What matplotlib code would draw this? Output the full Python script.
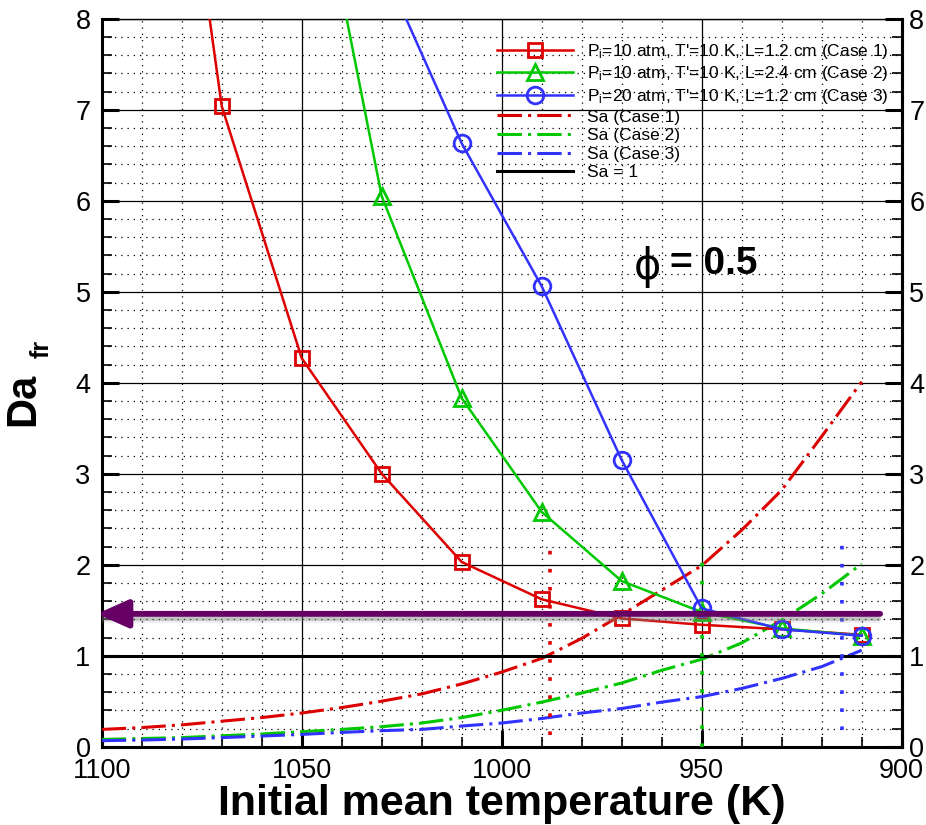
import numpy as np
import matplotlib
matplotlib.use('Agg')
import matplotlib.pyplot as plt
import matplotlib.patheffects as pe
from matplotlib.ticker import MultipleLocator

plt.rcParams['font.family'] = ['Liberation Sans', 'DejaVu Sans']
plt.rcParams['mathtext.fontset'] = 'custom'
plt.rcParams['mathtext.rm'] = 'Liberation Sans'
plt.rcParams['mathtext.it'] = 'Liberation Sans'

# Da_fr for the three cases (points above 8 are clipped by the axes)
T1 = [1090, 1070, 1050, 1030, 1010, 990, 970, 950, 930, 910]
da1 = [13.4, 7.04, 4.27, 3.0, 2.03, 1.62, 1.41, 1.34, 1.29, 1.23]
T2 = [1050, 1030, 1010, 990, 970, 950, 930, 910]
da2 = [10.5, 6.05, 3.83, 2.58, 1.82, 1.48, 1.30, 1.22]
T3 = [1030, 1010, 990, 970, 950, 930, 910]
da3 = [8.6, 6.63, 5.06, 3.15, 1.52, 1.29, 1.22]

# Sa curves
T_sa = [1100, 1090, 1080, 1070, 1060, 1050, 1040, 1030, 1020, 1010,
        1000, 990, 980, 970, 960, 950, 940, 930, 920, 910]
sa1 = [0.19, 0.21, 0.24, 0.28, 0.32, 0.37, 0.43, 0.50, 0.58, 0.69,
       0.82, 0.97, 1.19, 1.45, 1.72, 1.99, 2.38, 2.82, 3.41, 4.01]
sa2 = [0.08, 0.09, 0.10, 0.12, 0.14, 0.165, 0.19, 0.22, 0.26, 0.32,
       0.40, 0.49, 0.59, 0.70, 0.84, 0.96, 1.14, 1.39, 1.68, 2.01]
sa3 = [0.066, 0.073, 0.084, 0.10, 0.117, 0.135, 0.157, 0.176, 0.19, 0.227,
       0.26, 0.31, 0.37, 0.42, 0.49, 0.55, 0.64, 0.75, 0.88, 1.06]

# crossing markers (vertical dotted lines)
cross_T = [988, 950, 915]
cross_lo = [0.13, 0.0, 0.18]
cross_hi = [2.25, 2.18, 2.29]

# horizontal arrow
arrow_y = 1.46
arrow_from = 905.4
arrow_to = 1101.2

labels = ["P$_{i}$=10 atm, T'=10 K, L=1.2 cm (Case 1)",
          "P$_{i}$=10 atm, T'=10 K, L=2.4 cm (Case 2)",
          "P$_{i}$=20 atm, T'=10 K, L=1.2 cm (Case 3)",
          "Sa (Case 1)", "Sa (Case 2)", "Sa (Case 3)", "Sa = 1"]

red = '#dd0000'
green = '#00c800'
blue = '#3232ff'
purple = '#660066'
dashdot = (0, (8, 2, 1, 2))

fig = plt.figure(figsize=(9.26, 8.25), dpi=100)
ax = fig.add_axes([101.7 / 926, 1 - 746.7 / 825, 800 / 926, 728 / 825])

ax.plot(T1, da1, '-s', color=red, lw=1.8, ms=10, mfc='none', mew=2, label=labels[0], zorder=5)
ax.plot(T2, da2, '-^', color=green, lw=1.8, ms=11, mfc='none', mew=2, label=labels[1], zorder=5)
ax.plot(T3, da3, '-o', color=blue, lw=1.8, ms=12, mfc='none', mew=2, label=labels[2], zorder=5)
ax.plot(T_sa, sa1, color=red, lw=2.2, linestyle=dashdot, label=labels[3], zorder=4)
ax.plot(T_sa, sa2, color=green, lw=2.2, linestyle=dashdot, label=labels[4], zorder=4)
ax.plot(T_sa, sa3, color=blue, lw=2.2, linestyle=dashdot, label=labels[5], zorder=4)
ax.axhline(1, color='black', lw=2.2, label=labels[6], zorder=4)

for t, lo, hi, c in zip(cross_T, cross_lo, cross_hi, [red, green, blue]):
    ax.plot([t, t], [lo, hi], color=c, lw=2.6, linestyle=(0, (1, 4)), zorder=4)

# arrow with a soft shadow
ax.plot([arrow_from, arrow_to + 3], [arrow_y - 0.035, arrow_y - 0.035], color='0.45',
        lw=5, alpha=0.35, solid_capstyle='butt', zorder=5,
        path_effects=[pe.Stroke(linewidth=8, foreground='0.6', alpha=0.15), pe.Normal()])
ax.annotate('', xy=(arrow_to, arrow_y), xytext=(arrow_from, arrow_y),
            arrowprops=dict(arrowstyle='-|>,head_length=1.9,head_width=0.85',
                            lw=4.2, color=purple, shrinkA=0, shrinkB=0),
            annotation_clip=False, zorder=6)

ax.set_xlim(1100, 900)
ax.set_ylim(0, 8)
ax.xaxis.set_major_locator(MultipleLocator(50))
ax.xaxis.set_minor_locator(MultipleLocator(10))
ax.yaxis.set_major_locator(MultipleLocator(1))
ax.yaxis.set_minor_locator(MultipleLocator(0.2))

ax.grid(which='major', color='black', lw=0.9, zorder=1)
ax.grid(which='minor', color='black', lw=0.9, linestyle=(0, (1, 4)), zorder=1)
ax.set_axisbelow(True)

ax.tick_params(which='major', direction='in', length=12, width=2.2,
               left=True, right=False, bottom=True, top=False,
               labelleft=True, labelsize=19.5, pad=8)
ax.tick_params(which='minor', direction='in', length=7, width=1.2,
               left=True, right=False, bottom=True, top=False)
for s in ['left', 'right', 'bottom']:
    ax.spines[s].set_linewidth(2.2)
ax.spines['top'].set_linewidth(1.0)

# right-hand axis copy with its own label gap
ax2 = ax.twinx()
ax2.set_ylim(ax.get_ylim())
ax2.yaxis.set_major_locator(MultipleLocator(1))
ax2.yaxis.set_minor_locator(MultipleLocator(0.2))
ax2.tick_params(which='major', direction='in', length=12, width=2.2,
                labelsize=19.5, pad=5.5)
ax2.tick_params(which='minor', direction='in', length=7, width=1.2)
for s in ['left', 'top', 'bottom']:
    ax2.spines[s].set_visible(False)
ax2.spines['right'].set_linewidth(2.2)

leg = ax.legend(loc='upper left', bbox_to_anchor=(0.494, 0.968), frameon=False,
                fontsize=12.5, handlelength=4.4, handletextpad=0.8,
                labelspacing=0.2, borderpad=0, borderaxespad=0, numpoints=1)

fig.text(647 / 926, 1 - 267 / 825, '\u03d5', fontsize=30, family='DejaVu Sans',
         ha='center', va='center')
fig.text(670 / 926, 1 - 264 / 825, '= 0.5', fontsize=28, fontweight='bold',
         ha='left', va='center')

fig.text(501.7 / 926, 1 - 815 / 825, 'Initial mean temperature (K)', fontsize=31,
         fontweight='bold', ha='center', va='baseline')
fig.text(23 / 926, 1 - 399 / 825, 'Da', fontsize=30, fontweight='bold',
         rotation=90, ha='center', va='center')
fig.text(42 / 926, 1 - 349 / 825, 'fr', fontsize=18, fontweight='bold',
         rotation=90, ha='center', va='center')

fig.savefig('out.png', dpi=100)
